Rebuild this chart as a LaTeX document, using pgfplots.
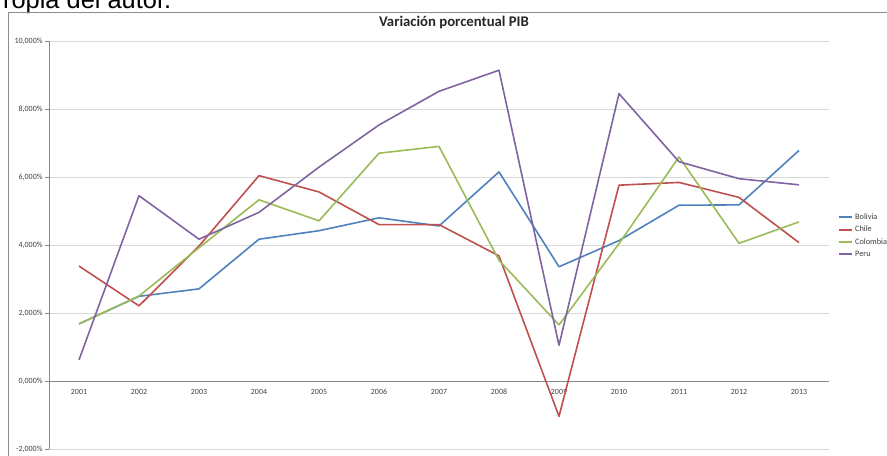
\documentclass[border=0pt]{standalone}
\usepackage{pgfplots}
\pgfplotsset{compat=1.18}
\usepackage{fontspec}
\setmainfont{Carlito}
\newfontfamily\arialfont{Liberation Sans}
\definecolor{bol}{HTML}{4F81BD}
\definecolor{chi}{HTML}{C0504D}
\definecolor{col}{HTML}{9BBB59}
\definecolor{per}{HTML}{8064A2}
\definecolor{gridgray}{HTML}{D9D9D9}
\definecolor{axisgray}{HTML}{868686}
\definecolor{framegray}{HTML}{8C8C8C}
\definecolor{labelgray}{HTML}{404040}
\begin{document}
\begin{tikzpicture}
\useasboundingbox (0bp,0bp) rectangle (887bp,456bp);
\node[anchor=base west, inner sep=0pt, font=\arialfont\fontsize{25.5}{30}\selectfont] at (-14bp,447bp) {Propia del autor.};
\draw[color=framegray, line width=0.9bp] (8bp,0bp) -- (8bp,444bp) -- (890bp,444bp);
\node[font=\bfseries\fontsize{14.8}{17}\selectfont, color=black!85] at (454bp,434bp) {Variación porcentual PIB};
\begin{axis}[
  at={(49bp,7bp)}, anchor=south west,
  scale only axis, width=780bp, height=408bp,
  xmin=0.5, xmax=13.5, ymin=-2, ymax=10,
  axis x line*=middle, axis y line*=left,
  axis line style={color=axisgray, line width=0.8bp},
  xtick={1,...,13},
  xticklabels={2001,2002,2003,2004,2005,2006,2007,2008,2009,2010,2011,2012,2013},
  major x tick style={draw=none},
  extra x ticks={1.5,2.5,...,13.5},
  extra x tick labels={},
  extra x tick style={major tick length=3.5bp, tick align=outside, tick style={color=axisgray, line width=0.8bp}},
  xticklabel style={font=\fontsize{8}{9}\selectfont, color=labelgray, yshift=-1bp},
  ytick={-2,0,2,4,6,8,10},
  yticklabels={{-2,000\%},{0,000\%},{2,000\%},{4,000\%},{6,000\%},{8,000\%},{10,000\%}},
  yticklabel style={font=\fontsize{8}{9}\selectfont, color=labelgray, xshift=1bp},
  y tick style={color=axisgray, line width=0.8bp},
  tick align=outside, major tick length=4bp,
  ymajorgrids, grid style={color=gridgray, line width=0.9bp},
  /pgf/number format/assume math mode=true,
  legend style={at={(1.0115,0.582)}, anchor=north west, draw=none, fill=none,
    font=\fontsize{8.3}{9}\selectfont, row sep=1.3bp, inner sep=0pt, text=labelgray},
  legend cell align=left,
  legend image code/.code={\draw[#1, line width=2bp] (0bp,0.3bp) -- (13bp,0.3bp);},
  every axis plot/.append style={line width=1.6bp, line join=round},
  clip=false,
]
\addplot[color=bol, mark=none] coordinates {(1,1.68)(2,2.49)(3,2.71)(4,4.17)(5,4.42)(6,4.80)(7,4.56)(8,6.15)(9,3.36)(10,4.13)(11,5.17)(12,5.18)(13,6.78)};
\addlegendentry{Bolivia}
\addplot[color=chi, mark=none] coordinates {(1,3.38)(2,2.21)(3,3.97)(4,6.04)(5,5.56)(6,4.60)(7,4.60)(8,3.68)(9,-1.04)(10,5.76)(11,5.84)(12,5.40)(13,4.07)};
\addlegendentry{Chile}
\addplot[color=col, mark=none] coordinates {(1,1.68)(2,2.50)(3,3.92)(4,5.33)(5,4.71)(6,6.70)(7,6.90)(8,3.55)(9,1.65)(10,4.04)(11,6.59)(12,4.05)(13,4.68)};
\addlegendentry{Colombia}
\addplot[color=per, mark=none] coordinates {(1,0.62)(2,5.45)(3,4.17)(4,4.96)(5,6.29)(6,7.53)(7,8.52)(8,9.14)(9,1.05)(10,8.45)(11,6.45)(12,5.95)(13,5.77)};
\addlegendentry{Peru}
\end{axis}
\end{tikzpicture}
\end{document}
